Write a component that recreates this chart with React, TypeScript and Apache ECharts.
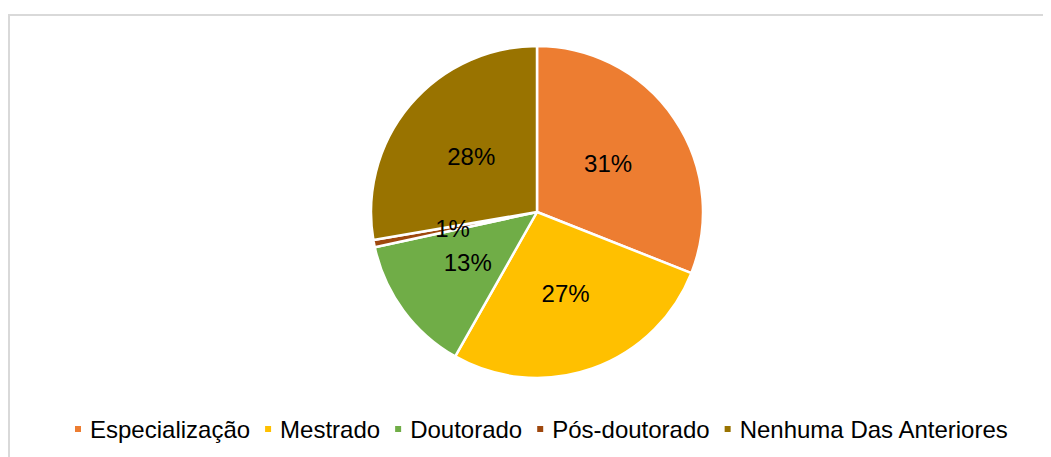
import React, { useEffect, useRef } from "react";
import * as echarts from "echarts";

const categories = ["Especialização", "Mestrado", "Doutorado", "Pós-doutorado", "Nenhuma Das Anteriores"];
const values = [31.0, 27.2, 13.4, 0.7, 27.7];
const colors = ["#ED7D31", "#FFC000", "#70AD47", "#9E480E", "#997300"];

export default function App() {
  const ref = useRef<HTMLDivElement>(null);
  useEffect(() => {
    if (!ref.current) return;
    const chart = echarts.init(ref.current, undefined, { renderer: "svg" });
    chart.setOption({
      animation: false,
      color: colors,
      textStyle: { fontFamily: "Liberation Sans, Arial, sans-serif" },
      graphic: [
        {
          type: "rect",
          shape: { x: 1, y: 7, width: 1200, height: 600 },
          style: { fill: "none", stroke: "#d9d9d9", lineWidth: 2 },
          silent: true,
        },
      ],
      legend: {
        data: categories,
        left: 60,
        top: 404,
        itemWidth: 8,
        itemHeight: 8,
        itemGap: 13,
        icon: "rect",
        textStyle: { fontSize: 24, color: "#000", padding: [0, 0, 0, 3], fontFamily: "Liberation Sans, Arial, sans-serif" },
      },
      series: [
        {
          type: "pie",
          center: [529, 204],
          radius: [0, 166],
          startAngle: 90,
          clockwise: true,
          avoidLabelOverlap: false,
          itemStyle: { borderColor: "#fff", borderWidth: 2.5 },
          label: {
            show: true,
            position: "inner",
            formatter: "{d}%",
            fontSize: 24,
            color: "#000",
            fontFamily: "Liberation Sans, Arial, sans-serif",
          },
          labelLine: { show: false },
          percentPrecision: 0,
          data: categories.map((name, i) => ({ name, value: values[i] })),
        },
      ],
    });
    return () => chart.dispose();
  }, []);
  return <div ref={ref} style={{ width: 1043, height: 449 }} />;
}
